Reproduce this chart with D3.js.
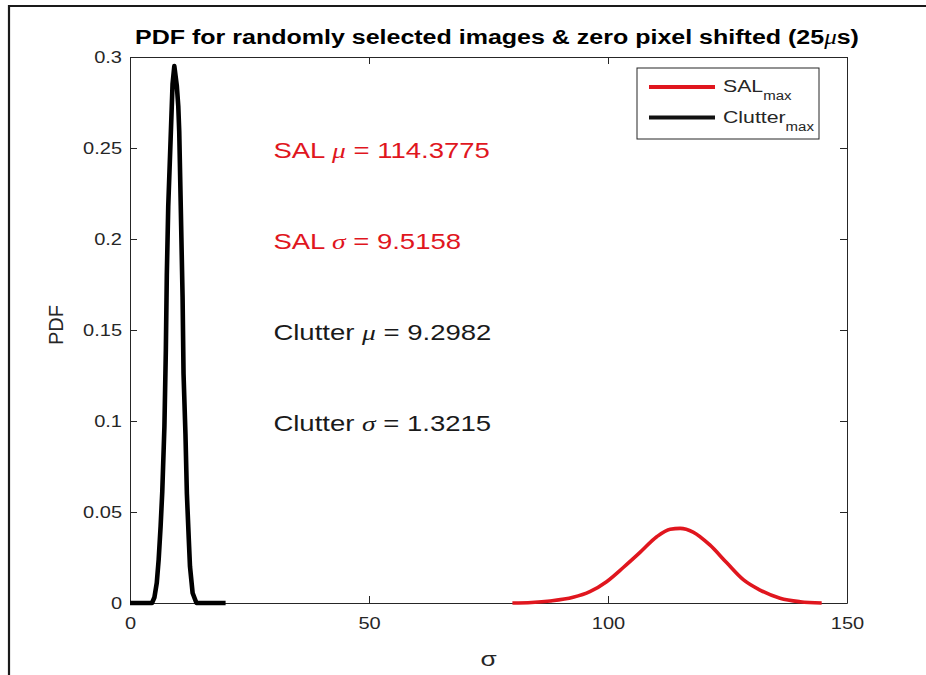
<!DOCTYPE html>
<html>
<head>
<meta charset="utf-8">
<script src="https://cdn.jsdelivr.net/npm/d3@7"></script>
<style>
  body { margin: 0; background: #fff; }
  svg { display: block; font-family: "Liberation Sans", Arial, sans-serif; }
  .tick text { fill: #262626; font-size: 16px; }
  .domain, .tick line { stroke: #262626; }
</style>
</head>
<body>
<svg width="926" height="675"></svg>
<script>
// values
const xTicks = [0, 50, 100, 150];
const yTicks = [0, 0.05, 0.1, 0.15, 0.2, 0.25, 0.3];

const clutterX = [0, 4.6, 5.1, 5.6, 6.0, 6.4, 6.75, 7.2, 7.5, 7.7, 8.0, 8.5, 8.9, 9.27, 9.8, 10.1, 10.3, 10.65, 11.0, 11.2, 11.6, 11.9, 12.3, 12.55, 13.1, 13.9, 20];
const clutterY = [0, 0, 0.003, 0.011, 0.024, 0.042, 0.061, 0.097, 0.139, 0.18, 0.218, 0.255, 0.285, 0.295, 0.284, 0.273, 0.259, 0.214, 0.168, 0.126, 0.093, 0.06, 0.035, 0.02, 0.0055, 0, 0];

const salX = [80, 84, 87.9, 92.7, 96.2, 99.7, 103.2, 106.7, 110.2, 113.0, 115.1, 117.8, 121.3, 124.8, 128.3, 131.8, 136.0, 140.2, 144.7];
const salY = [0, 0.0003, 0.0011, 0.0031, 0.0062, 0.0117, 0.0195, 0.0278, 0.0364, 0.0405, 0.041, 0.039, 0.0319, 0.0222, 0.0128, 0.0071, 0.0026, 0.0007, 0];

const notes = [
  { name: "SAL", sym: "\u03bc", val: "114.3775", color: "#e0161e", y: 0.25 },
  { name: "SAL", sym: "\u03c3", val: "9.5158", color: "#e0161e", y: 0.2 },
  { name: "Clutter", sym: "\u03bc", val: "9.2982", color: "#1a1a1a", y: 0.15 },
  { name: "Clutter", sym: "\u03c3", val: "1.3215", color: "#1a1a1a", y: 0.1 }
];

const legendNames = ["SAL", "Clutter"];
const legendColors = ["#e0161e", "#111"];

// the screenshot is a bit wider than tall, so text is stretched sideways
const STRETCH = 1.25;
function stretch(sel) {
  sel.each(function() {
    const L = this.getComputedTextLength();
    d3.select(this).attr("textLength", L * STRETCH).attr("lengthAdjust", "spacingAndGlyphs");
  });
}

const svg = d3.select("svg");
const margin = { left: 130, right: 79, top: 57, bottom: 72 };
const W = 926 - margin.left - margin.right;
const H = 675 - margin.top - margin.bottom;

// outer frame of the screenshot (top and left only)
svg.append("path")
  .attr("d", "M9,675 V6 H926")
  .attr("fill", "none")
  .attr("stroke", "#1a1a1a")
  .attr("stroke-width", 2.2);

const g = svg.append("g").attr("transform", `translate(${margin.left},${margin.top})`);

const x = d3.scaleLinear().domain([0, 150]).range([0, W]);
const y = d3.scaleLinear().domain([0, 0.3]).range([H, 0]);

const fmt = d3.format("~g");

g.append("g").attr("transform", `translate(0,${H})`)
  .call(d3.axisBottom(x).tickValues(xTicks).tickSize(-7).tickSizeOuter(0).tickPadding(15).tickFormat(fmt));
g.append("g").call(d3.axisTop(x).tickValues(xTicks).tickSize(-7).tickSizeOuter(0).tickFormat(""));
g.append("g")
  .call(d3.axisLeft(y).tickValues(yTicks).tickSize(-7).tickSizeOuter(0).tickPadding(8).tickFormat(fmt));
g.append("g").attr("transform", `translate(${W},0)`)
  .call(d3.axisRight(y).tickValues(yTicks).tickSize(-7).tickSizeOuter(0).tickFormat(""));
stretch(g.selectAll(".tick text"));

const line = d3.line().x(d => x(d[0])).y(d => y(d[1]));

g.append("path")
  .datum(clutterX.map((v, i) => [v, clutterY[i]]))
  .attr("d", line)
  .attr("fill", "none")
  .attr("stroke", "#000")
  .attr("stroke-width", 4.6)
  .attr("stroke-linejoin", "round");

g.append("path")
  .datum(salX.map((v, i) => [v, salY[i]]))
  .attr("d", line.curve(d3.curveMonotoneX))
  .attr("fill", "none")
  .attr("stroke", "#e0161e")
  .attr("stroke-width", 3.6)
  .attr("stroke-linejoin", "round");

// annotations
notes.forEach(n => {
  const t = g.append("text")
    .attr("x", x(30))
    .attr("y", y(n.y))
    .attr("dy", "0.45em")
    .attr("fill", n.color)
    .style("font-size", "22px");
  t.append("tspan").text(n.name + " ");
  t.append("tspan").text(n.sym)
    .style("font-family", "'Liberation Serif', serif")
    .style("font-style", "italic");
  t.append("tspan").text(" = " + n.val);
  stretch(t);
});

// title
svg.append("text")
  .attr("x", 497)
  .attr("y", 44)
  .attr("text-anchor", "middle")
  .style("font-weight", "bold")
  .style("font-size", "20px")
  .attr("fill", "#000")
  .call(t => {
    t.append("tspan").text("PDF for randomly selected images & zero pixel shifted (25");
    t.append("tspan").text("\u03bc").style("font-family", "'Liberation Serif', serif").style("font-style", "italic").style("font-weight", "normal");
    t.append("tspan").text("s)");
  })
  .call(stretch);

// axis labels
svg.append("text")
  .attr("transform", "translate(63,325) rotate(-90)")
  .attr("text-anchor", "middle")
  .attr("fill", "#262626")
  .style("font-size", "20px")
  .text("PDF");

svg.append("text")
  .attr("x", x(75) + margin.left)
  .attr("y", 666)
  .attr("text-anchor", "middle")
  .attr("fill", "#262626")
  .style("font-size", "21px")
  .text("\u03c3")
  .call(stretch);

// legend
const lg = svg.append("g").attr("transform", "translate(637,68)");
lg.append("rect").attr("width", 182).attr("height", 71)
  .attr("fill", "#fff").attr("stroke", "#262626").attr("stroke-width", 1);
legendNames.forEach((name, i) => {
  const ly = 19 + i * 30.5;
  lg.append("line").attr("x1", 12).attr("x2", 78).attr("y1", ly).attr("y2", ly)
    .attr("stroke", legendColors[i]).attr("stroke-width", 4);
  const t = lg.append("text").attr("x", 86).attr("y", ly + 5).attr("fill", "#262626").style("font-size", "17px");
  t.append("tspan").text(name);
  t.append("tspan").text("max").attr("dy", 8).style("font-size", "12px");
  stretch(t);
});
</script>
</body>
</html>
